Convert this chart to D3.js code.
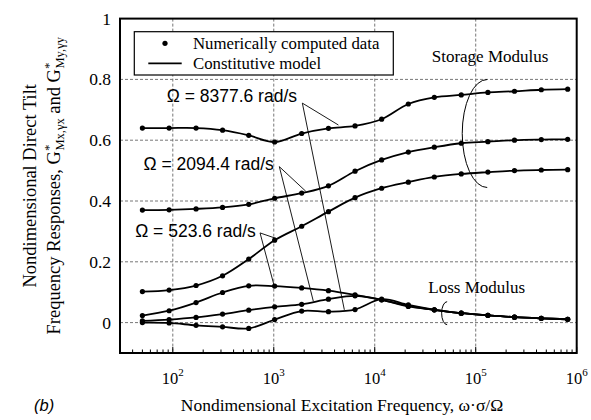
<!DOCTYPE html>
<html>
<head>
<meta charset="utf-8">
<script src="https://cdn.jsdelivr.net/npm/d3@7"></script>
<style>
  body { margin: 0; background: #fff; }
  svg { display: block; }
</style>
</head>
<body>
<div id="vis"></div>
<script>
'use strict'

////////////////////////////////////////
///////////////// Data /////////////////
////////////////////////////////////////

// excitation frequency (omega*sigma/Omega) of the computed points
const freq = [50, 92, 170, 311, 565, 1020, 1890, 3480, 6380, 11700, 21500, 38900, 71900, 132000, 242000, 446000, 814000];

const storage8377 = [0.640, 0.640, 0.640, 0.633, 0.616, 0.594, 0.622, 0.639, 0.647, 0.669, 0.719, 0.741, 0.749, 0.757, 0.761, 0.766, 0.768];
const storage2094 = [0.370, 0.371, 0.374, 0.379, 0.389, 0.409, 0.426, 0.450, 0.498, 0.535, 0.561, 0.577, 0.590, 0.595, 0.600, 0.602, 0.603];
const storage523  = [0.102, 0.107, 0.122, 0.154, 0.209, 0.271, 0.317, 0.365, 0.411, 0.442, 0.462, 0.479, 0.489, 0.495, 0.500, 0.502, 0.503];

const loss523  = [0.023, 0.039, 0.066, 0.099, 0.121, 0.120, 0.114, 0.105, 0.091, 0.075, 0.053, 0.042, 0.031, 0.024, 0.018, 0.014, 0.011];
const loss2094 = [0.006, 0.010, 0.017, 0.028, 0.041, 0.052, 0.060, 0.077, 0.088, 0.075, 0.055, 0.042, 0.031, 0.024, 0.018, 0.014, 0.011];
const loss8377 = [0.000, -0.001, -0.009, -0.014, -0.019, 0.010, 0.038, 0.036, 0.043, 0.077, 0.058, 0.042, 0.031, 0.024, 0.018, 0.014, 0.011];

const series = [storage8377, storage2094, storage523, loss523, loss2094, loss8377];

const xDecades = [100, 1000, 10000, 100000, 1000000];
const yTicks = [0, 0.2, 0.4, 0.6, 0.8, 1];

const legendLabels = ["Numerically computed data", "Constitutive model"];

// Omega labels: text anchor, apex of leader lines, and the curve points they point to
const omegaLabels = [
  { text: "\u03A9 = 8377.6 rad/s", at: [87, 0.724], apex: [1919, 0.722], to: [[4365, 0.650], [5000, 0.042]] },
  { text: "\u03A9 = 2094.4 rad/s", at: [51.2, 0.502], apex: [1135, 0.513], to: [[2075, 0.432], [2466, 0.070]] },
  { text: "\u03A9 = 523.6 rad/s",  at: [42.4, 0.282], apex: [731, 0.295], to: [[1072, 0.276], [1007, 0.122]] }
];

const groupLabels = [
  { text: "Storage Modulus", at: [36650, 0.856], bracket: [130000, 0.622], rx: 25, ry: 54 },
  { text: "Loss Modulus",    at: [33960, 0.097], bracket: [52100, 0.031], rx: 5.5, ry: 11.5 }
];

////////////////////////////////////////
////////////// SVG Setup ///////////////
////////////////////////////////////////

const options = {
  width: 591,
  height: 420,
  margin: { top: 18.6, right: 14.3, bottom: 67, left: 120 }
};

const svg = d3.select('#vis').append('svg')
  .attr('width', options.width)
  .attr('height', options.height);

const width = options.width - options.margin.left - options.margin.right;
const height = options.height - options.margin.top - options.margin.bottom;

const g = svg.append('g')
  .attr('transform', `translate(${options.margin.left},${options.margin.top})`);

////////////////////////////////////////
////////////// Scales //////////////////
////////////////////////////////////////

const x = d3.scaleLog().domain([30, 1e6]).range([0, width]);
const y = d3.scaleLinear().domain([-0.1, 1]).range([height, 0]);

const serif = "'Liberation Serif', 'Times New Roman', serif";
const sans = "'Liberation Sans', Arial, sans-serif";

////////////////////////////////////////
////////////// Grid ////////////////////
////////////////////////////////////////

g.selectAll('.vgrid')
  .data(xDecades.slice(0, -1))
  .join('line')
  .attr('x1', d => x(d)).attr('x2', d => x(d))
  .attr('y1', 0).attr('y2', height)
  .attr('stroke', '#777')
  .attr('stroke-width', 1)
  .attr('stroke-dasharray', '3,2');

g.selectAll('.hgrid')
  .data(yTicks.slice(0, -1))
  .join('line')
  .attr('x1', 0).attr('x2', width)
  .attr('y1', d => y(d)).attr('y2', d => y(d))
  .attr('stroke', '#777')
  .attr('stroke-width', 1)
  .attr('stroke-dasharray', '3,2');

////////////////////////////////////////
////////////// Axes ////////////////////
////////////////////////////////////////

// minor + major ticks along the bottom, pointing inward
const allTicks = x.ticks(60).filter(d => d >= 30);
g.selectAll('.xtick')
  .data(allTicks)
  .join('line')
  .attr('x1', d => x(d)).attr('x2', d => x(d))
  .attr('y1', height)
  .attr('y2', d => xDecades.includes(d) ? height - 6 : height - 3.5)
  .attr('stroke', '#000')
  .attr('stroke-width', 1);

const xLab = g.selectAll('.xlab')
  .data(xDecades)
  .join('text')
  .attr('x', d => x(d))
  .attr('y', height + 31)
  .attr('text-anchor', 'middle')
  .style('font-family', serif)
  .style('font-size', '16.5px');

xLab.append('tspan').text('10');
xLab.append('tspan')
  .attr('dy', -7.5)
  .style('font-size', '11px')
  .text(d => Math.round(Math.log10(d)));

g.selectAll('.ylab')
  .data(yTicks)
  .join('text')
  .attr('x', -9)
  .attr('y', d => y(d) + 6)
  .attr('text-anchor', 'end')
  .style('font-family', serif)
  .style('font-size', '17.5px')
  .text(d => d3.format('~g')(d));

g.append('rect')
  .attr('width', width)
  .attr('height', height)
  .attr('fill', 'none')
  .attr('stroke', '#000')
  .attr('stroke-width', 2);

// axis titles
svg.append('text')
  .attr('x', 342)
  .attr('y', 411)
  .attr('text-anchor', 'middle')
  .style('font-family', serif)
  .style('font-size', '17.5px')
  .text('Nondimensional Excitation Frequency, \u03C9\u00B7\u03C3/\u03A9');

svg.append('text')
  .attr('x', 34)
  .attr('y', 411)
  .style('font-family', sans)
  .style('font-style', 'italic')
  .style('font-size', '16.5px')
  .text('(b)');

const yTitle = svg.append('g')
  .attr('transform', `translate(0,${options.margin.top + height / 2}) rotate(-90)`)
  .style('font-family', serif)
  .style('font-size', '18.5px');

yTitle.append('text')
  .attr('x', 0).attr('y', 36)
  .attr('text-anchor', 'middle')
  .text('Nondimensional Direct Tilt');

const line2 = yTitle.append('text')
  .attr('x', 0).attr('y', 60)
  .attr('text-anchor', 'middle');
line2.append('tspan').text('Frequency Responses, G');
line2.append('tspan').attr('dy', -7).style('font-size', '13px').text('*');
line2.append('tspan').attr('dx', -6).attr('dy', 11).style('font-size', '12.5px').text('Mx,\u03B3x');
line2.append('tspan').attr('dy', -4).text(' and G');
line2.append('tspan').attr('dy', -7).style('font-size', '13px').text('*');
line2.append('tspan').attr('dx', -6).attr('dy', 11).style('font-size', '12.5px').text('My,\u03B3y');

////////////////////////////////////////
////////////// Curves //////////////////
////////////////////////////////////////

const line = d3.line()
  .x((d, i) => x(freq[i]))
  .y(d => y(d))
  .curve(d3.curveCatmullRom.alpha(0.5));

g.selectAll('.curve')
  .data(series)
  .join('path')
  .attr('d', line)
  .attr('fill', 'none')
  .attr('stroke', '#000')
  .attr('stroke-width', 1.8);

series.forEach(s => {
  g.append('g').selectAll('circle')
    .data(s)
    .join('circle')
    .attr('cx', (d, i) => x(freq[i]))
    .attr('cy', d => y(d))
    .attr('r', 2.6)
    .attr('fill', '#000');
});

////////////////////////////////////////
////////////// Annotations /////////////
////////////////////////////////////////

omegaLabels.forEach(a => {
  g.append('text')
    .attr('x', x(a.at[0]))
    .attr('y', y(a.at[1]))
    .style('font-family', sans)
    .style('font-size', '17.5px')
    .text(a.text);
  a.to.forEach(t => {
    g.append('line')
      .attr('x1', x(a.apex[0])).attr('y1', y(a.apex[1]))
      .attr('x2', x(t[0])).attr('y2', y(t[1]))
      .attr('stroke', '#000')
      .attr('stroke-width', 0.9);
  });
});

groupLabels.forEach(a => {
  g.append('text')
    .attr('x', x(a.at[0]))
    .attr('y', y(a.at[1]))
    .style('font-family', serif)
    .style('font-size', '17px')
    .text(a.text);
  const cx = x(a.bracket[0]), cy = y(a.bracket[1]);
  g.append('path')
    .attr('d', `M${cx},${cy - a.ry} A${a.rx},${a.ry} 0 0 0 ${cx},${cy + a.ry}`)
    .attr('fill', 'none')
    .attr('stroke', '#000')
    .attr('stroke-width', 1);
});

////////////////////////////////////////
////////////// Legend //////////////////
////////////////////////////////////////

const legend = svg.append('g');

legend.append('rect')
  .attr('x', 134.3).attr('y', 31.7)
  .attr('width', 259).attr('height', 43.3)
  .attr('fill', '#fff')
  .attr('stroke', '#000')
  .attr('stroke-width', 1.2);

legend.append('circle')
  .attr('cx', 165).attr('cy', 43.3).attr('r', 2.6)
  .attr('fill', '#000');

legend.append('line')
  .attr('x1', 148.3).attr('x2', 181.7)
  .attr('y1', 63.3).attr('y2', 63.3)
  .attr('stroke', '#000')
  .attr('stroke-width', 1.8);

legend.selectAll('.ltext')
  .data(legendLabels)
  .join('text')
  .attr('x', 193)
  .attr('y', (d, i) => 48.5 + i * 20.5)
  .style('font-family', serif)
  .style('font-size', '16.8px')
  .text(d => d);
</script>
</body>
</html>
